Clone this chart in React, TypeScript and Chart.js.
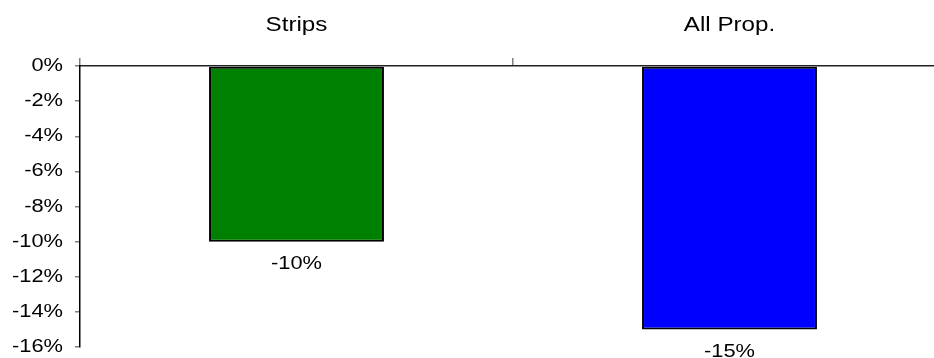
import React, { useEffect, useRef } from "react";
import { Chart, registerables } from "chart.js";

Chart.register(...registerables);

// Segments and their changes (percent)
const categories: string[] = ["Strips", "All Prop."];
const changes: number[] = [-10, -15];
const barColors: string[] = ["#008000", "#0000FF"];

// Value axis range and step (percent)
const yMin = -16;
const yMax = 0;
const yStep = 2;

const FONT = "'Liberation Sans', Arial, Helvetica, sans-serif";
// text is drawn slightly widened
const STRETCH = 1.18;

function wideText(
  ctx: CanvasRenderingContext2D,
  text: string,
  x: number,
  y: number,
  size: number,
  align: CanvasTextAlign
) {
  ctx.save();
  ctx.translate(x, y);
  ctx.scale(STRETCH, 1);
  ctx.font = `${size}px ${FONT}`;
  ctx.fillStyle = "#000";
  ctx.textAlign = align;
  ctx.textBaseline = "middle";
  ctx.fillText(text, 0, 0);
  ctx.restore();
}

const textLayer = {
  id: "textLayer",
  afterDraw(chart: any) {
    const { ctx } = chart;
    const xs = chart.scales.x;
    const ys = chart.scales.y;

    // category labels above the axis
    xs.ticks.forEach((t: any, i: number) => {
      wideText(ctx, String(t.label), xs.getPixelForTick(i), 25, 20.5, "center");
    });

    // value axis labels
    ys.ticks.forEach((t: any, i: number) => {
      wideText(ctx, String(t.label), ys.right - 17, ys.getPixelForTick(i), 18.5, "right");
    });

    // bar value labels
    const meta = chart.getDatasetMeta(0);
    meta.data.forEach((bar: any, i: number) => {
      wideText(ctx, `${changes[i]}%`, bar.x, bar.y + 22, 18.5, "center");
    });
  },
};

export default function App() {
  const ref = useRef<HTMLCanvasElement | null>(null);

  useEffect(() => {
    if (!ref.current) return;
    const chart = new Chart(ref.current, {
      type: "bar",
      data: {
        labels: categories,
        datasets: [
          {
            data: changes,
            backgroundColor: barColors,
            borderColor: "#000",
            borderWidth: 2,
            borderSkipped: false,
            barPercentage: 0.404,
            categoryPercentage: 1,
          },
        ],
      },
      options: {
        responsive: false,
        animation: false,
        devicePixelRatio: 1,
        layout: { padding: { top: 0, left: 0, right: 4, bottom: 11 } },
        plugins: {
          legend: { display: false },
          tooltip: { enabled: false },
        },
        scales: {
          x: {
            type: "category",
            position: "top",
            offset: true,
            afterFit: (s: any) => {
              s.height = 66;
            },
            grid: {
              offset: true,
              drawOnChartArea: false,
              drawTicks: true,
              tickLength: 8,
              color: "#808080",
              lineWidth: 1.5,
            },
            border: { display: true, color: "#222", width: 1.5 },
            ticks: { display: false },
          },
          y: {
            type: "linear",
            min: yMin,
            max: yMax,
            afterFit: (s: any) => {
              s.width = 80;
            },
            grid: {
              drawOnChartArea: false,
              drawTicks: true,
              tickLength: 5,
              color: "#808080",
              lineWidth: 1.5,
            },
            border: { display: true, color: "#000", width: 1.5 },
            ticks: {
              display: false,
              stepSize: yStep,
              callback: (v: any) => `${v}%`,
            },
          },
        },
      },
      plugins: [textLayer],
    });
    return () => chart.destroy();
  }, []);

  return (
    <div
      style={{
        position: "fixed",
        left: 0,
        top: 0,
        width: 934,
        height: 358,
        overflow: "hidden",
        background: "#fff",
      }}
    >
      <canvas ref={ref} width={950} height={358} style={{ display: "block" }} />
    </div>
  );
}
